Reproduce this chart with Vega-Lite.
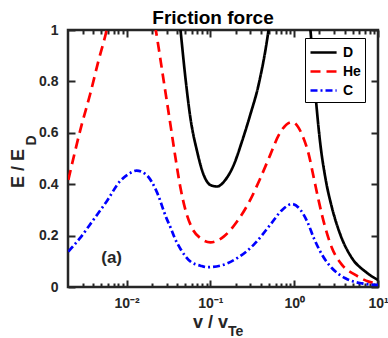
{
  "$schema": "https://vega.github.io/schema/vega-lite/v6.json",
  "autosize": "none",
  "width": 310,
  "height": 257,
  "padding": {"left": 68, "top": 30, "right": 10, "bottom": 51},
  "background": "white",
  "config": {
    "font": "Liberation Sans",
    "view": {"stroke": "#262626", "strokeWidth": 2.5},
    "axis": {"domain": false, "grid": false, "tickColor": "#262626", "tickWidth": 2, "labelColor": "#262626", "titleColor": "#262626", "labelFont": "Liberation Sans", "titleFont": "Liberation Sans", "labelFontWeight": "bold", "titleFontWeight": "bold"}
  },
  "title": {"text": "Friction force", "fontSize": 19, "fontWeight": "bold", "font": "Liberation Sans", "color": "#000000", "anchor": "middle", "offset": 5, "dx": -10, "dy": 10},
  "resolve": {"axis": {"x": "independent", "y": "independent"}},
  "layer": [
    {
      "data": {"values": [
        {"species": "D", "v": 0.0355, "E": 1.3},
        {"species": "D", "v": 0.0440, "E": 1.0},
        {"species": "D", "v": 0.0504, "E": 0.813},
        {"species": "D", "v": 0.0578, "E": 0.657},
        {"species": "D", "v": 0.0695, "E": 0.527},
        {"species": "D", "v": 0.0832, "E": 0.436},
        {"species": "D", "v": 0.100, "E": 0.397},
        {"species": "D", "v": 0.120, "E": 0.391},
        {"species": "D", "v": 0.151, "E": 0.417},
        {"species": "D", "v": 0.190, "E": 0.475},
        {"species": "D", "v": 0.238, "E": 0.566},
        {"species": "D", "v": 0.299, "E": 0.67},
        {"species": "D", "v": 0.376, "E": 0.787},
        {"species": "D", "v": 0.494, "E": 1.0},
        {"species": "D", "v": 0.631, "E": 1.3},
        {"species": "D", "v": 1.0, "E": 1.6},
        {"species": "D", "v": 1.26, "E": 1.3},
        {"species": "D", "v": 1.563, "E": 1.0},
        {"species": "D", "v": 1.795, "E": 0.748},
        {"species": "D", "v": 2.056, "E": 0.553},
        {"species": "D", "v": 2.36, "E": 0.423},
        {"species": "D", "v": 2.83, "E": 0.307},
        {"species": "D", "v": 3.56, "E": 0.203},
        {"species": "D", "v": 4.90, "E": 0.112},
        {"species": "D", "v": 7.06, "E": 0.06},
        {"species": "D", "v": 10, "E": 0.027},
        {"species": "He", "v": 0.00202, "E": 0.417},
        {"species": "He", "v": 0.00291, "E": 0.631},
        {"species": "He", "v": 0.00366, "E": 0.748},
        {"species": "He", "v": 0.00460, "E": 0.878},
        {"species": "He", "v": 0.00578, "E": 1.0},
        {"species": "He", "v": 0.00708, "E": 1.15},
        {"species": "He", "v": 0.0115, "E": 1.6},
        {"species": "He", "v": 0.0182, "E": 1.15},
        {"species": "He", "v": 0.0223, "E": 1.0},
        {"species": "He", "v": 0.0274, "E": 0.813},
        {"species": "He", "v": 0.0334, "E": 0.631},
        {"species": "He", "v": 0.0376, "E": 0.52},
        {"species": "He", "v": 0.0440, "E": 0.385},
        {"species": "He", "v": 0.0504, "E": 0.30},
        {"species": "He", "v": 0.0605, "E": 0.229},
        {"species": "He", "v": 0.0760, "E": 0.19},
        {"species": "He", "v": 0.100, "E": 0.174},
        {"species": "He", "v": 0.144, "E": 0.196},
        {"species": "He", "v": 0.208, "E": 0.255},
        {"species": "He", "v": 0.299, "E": 0.339},
        {"species": "He", "v": 0.394, "E": 0.423},
        {"species": "He", "v": 0.518, "E": 0.514},
        {"species": "He", "v": 0.656, "E": 0.592},
        {"species": "He", "v": 0.946, "E": 0.642},
        {"species": "He", "v": 1.245, "E": 0.592},
        {"species": "He", "v": 1.496, "E": 0.514},
        {"species": "He", "v": 1.718, "E": 0.423},
        {"species": "He", "v": 1.968, "E": 0.333},
        {"species": "He", "v": 2.36, "E": 0.229},
        {"species": "He", "v": 2.83, "E": 0.151},
        {"species": "He", "v": 3.72, "E": 0.086},
        {"species": "He", "v": 5.37, "E": 0.047},
        {"species": "He", "v": 7.74, "E": 0.021},
        {"species": "He", "v": 10, "E": 0.014},
        {"species": "C", "v": 0.00202, "E": 0.138},
        {"species": "C", "v": 0.00278, "E": 0.19},
        {"species": "C", "v": 0.00401, "E": 0.261},
        {"species": "C", "v": 0.00578, "E": 0.333},
        {"species": "C", "v": 0.00832, "E": 0.411},
        {"species": "C", "v": 0.01096, "E": 0.443},
        {"species": "C", "v": 0.01315, "E": 0.453},
        {"species": "C", "v": 0.0173, "E": 0.436},
        {"species": "C", "v": 0.0228, "E": 0.372},
        {"species": "C", "v": 0.0299, "E": 0.268},
        {"species": "C", "v": 0.0334, "E": 0.232},
        {"species": "C", "v": 0.0376, "E": 0.19},
        {"species": "C", "v": 0.0440, "E": 0.148},
        {"species": "C", "v": 0.0578, "E": 0.099},
        {"species": "C", "v": 0.0760, "E": 0.083},
        {"species": "C", "v": 0.0912, "E": 0.077},
        {"species": "C", "v": 0.1315, "E": 0.083},
        {"species": "C", "v": 0.208, "E": 0.112},
        {"species": "C", "v": 0.328, "E": 0.164},
        {"species": "C", "v": 0.518, "E": 0.242},
        {"species": "C", "v": 0.719, "E": 0.30},
        {"species": "C", "v": 0.946, "E": 0.323},
        {"species": "C", "v": 1.189, "E": 0.30},
        {"species": "C", "v": 1.429, "E": 0.255},
        {"species": "C", "v": 1.718, "E": 0.19},
        {"species": "C", "v": 2.153, "E": 0.125},
        {"species": "C", "v": 2.83, "E": 0.073},
        {"species": "C", "v": 4.08, "E": 0.034},
        {"species": "C", "v": 6.46, "E": 0.014},
        {"species": "C", "v": 10, "E": 0.008}
      ]},
      "mark": {"type": "line", "clip": true, "strokeWidth": 2.7, "interpolate": "monotone"},
      "encoding": {
        "x": {"field": "v", "type": "quantitative", "scale": {"type": "log", "domain": [0.002, 10], "nice": false},
          "axis": {"orient": "bottom", "values": [0.01, 0.1, 1, 10], "tickSize": -7, "labelPadding": 16, "labelFontSize": 14,
            "labelExpr": "datum.value == 0.01 ? '10⁻²' : datum.value == 0.1 ? '10⁻¹' : datum.value == 1 ? '10⁰' : datum.value == 10 ? '10¹' : ''",
            "title": "v / v", "titleFontSize": 18, "titleX": 142, "titleY": 35, "titleBaseline": "middle", "titleAlign": "center", "labelFlush": false}},
        "y": {"field": "E", "type": "quantitative", "scale": {"domain": [0, 1], "nice": false},
          "axis": {"orient": "left", "values": [0, 0.2, 0.4, 0.6, 0.8, 1], "format": "~g", "tickSize": -7, "labelPadding": 17, "labelFontSize": 14,
            "title": "E / E", "titleFontSize": 18, "titleX": -50, "titleY": 138, "titleAngle": 270, "titleBaseline": "middle", "titleAlign": "center", "labelFlush": false}},
        "color": {"field": "species", "type": "nominal",
          "scale": {"domain": ["D", "He", "C"], "range": ["#000000", "#ff0000", "#0000ff"]},
          "legend": {"orient": "none", "legendX": 237, "legendY": 8, "title": null, "padding": 4, "fillColor": "white", "strokeColor": "#000000",
            "labelFontSize": 14, "labelFontWeight": "bold", "labelColor": "#000000", "labelFont": "Liberation Sans", "symbolType": "M-1,0H1.9", "symbolSize": 324, "symbolStrokeWidth": 2.7, "rowPadding": 1, "labelOffset": 13}},
        "strokeDash": {"field": "species", "type": "nominal",
          "scale": {"domain": ["D", "He", "C"], "range": [[1, 0], [10, 6], [7, 3, 2, 3]]},
          "legend": {"orient": "none", "legendX": 237, "legendY": 8, "title": null}}
      }
    },
    {
      "data": {"values": [{"label": "(a)"}]},
      "mark": {"type": "text", "fontSize": 17, "fontWeight": "bold", "font": "Liberation Sans", "color": "#262626", "align": "center", "baseline": "middle"},
      "encoding": {
        "x": {"datum": 0.00663, "type": "quantitative", "scale": {"type": "log", "domain": [0.002, 10], "nice": false},
          "axis": {"orient": "top", "values": [0.01, 0.1, 1, 10], "tickSize": -7, "labels": false, "title": null}},
        "y": {"datum": 0.114, "type": "quantitative", "scale": {"domain": [0, 1], "nice": false},
          "axis": {"orient": "right", "values": [0, 0.2, 0.4, 0.6, 0.8, 1], "tickSize": -7, "labels": false, "title": null}},
        "text": {"field": "label"}
      }
    },
    {
      "data": {"values": [{"label": "D"}]},
      "mark": {"type": "text", "fontSize": 14, "fontWeight": "bold", "font": "Liberation Sans", "color": "#262626", "align": "center", "baseline": "middle", "angle": 270},
      "encoding": {
        "x": {"datum": 0.000734, "type": "quantitative", "scale": {"type": "log", "domain": [0.002, 10], "nice": false},
          "axis": {"orient": "bottom", "values": [0.003, 0.004, 0.005, 0.006, 0.007, 0.008, 0.009, 0.02, 0.03, 0.04, 0.05, 0.06, 0.07, 0.08, 0.09, 0.2, 0.3, 0.4, 0.5, 0.6, 0.7, 0.8, 0.9, 2, 3, 4, 5, 6, 7, 8, 9], "tickSize": -4, "labels": false, "title": null}},
        "y": {"datum": 0.57, "type": "quantitative", "scale": {"domain": [0, 1], "nice": false}, "axis": null},
        "text": {"field": "label"}
      }
    },
    {
      "data": {"values": [{"label": "Te"}]},
      "mark": {"type": "text", "fontSize": 14, "fontWeight": "bold", "font": "Liberation Sans", "color": "#262626", "align": "center", "baseline": "middle"},
      "encoding": {
        "x": {"datum": 0.2, "type": "quantitative", "scale": {"type": "log", "domain": [0.002, 10], "nice": false},
          "axis": {"orient": "top", "values": [0.003, 0.004, 0.005, 0.006, 0.007, 0.008, 0.009, 0.02, 0.03, 0.04, 0.05, 0.06, 0.07, 0.08, 0.09, 0.2, 0.3, 0.4, 0.5, 0.6, 0.7, 0.8, 0.9, 2, 3, 4, 5, 6, 7, 8, 9], "tickSize": -4, "labels": false, "title": null}},
        "y": {"datum": -0.175, "type": "quantitative", "scale": {"domain": [0, 1], "nice": false}, "axis": null},
        "text": {"field": "label"}
      }
    }
  ]
}
